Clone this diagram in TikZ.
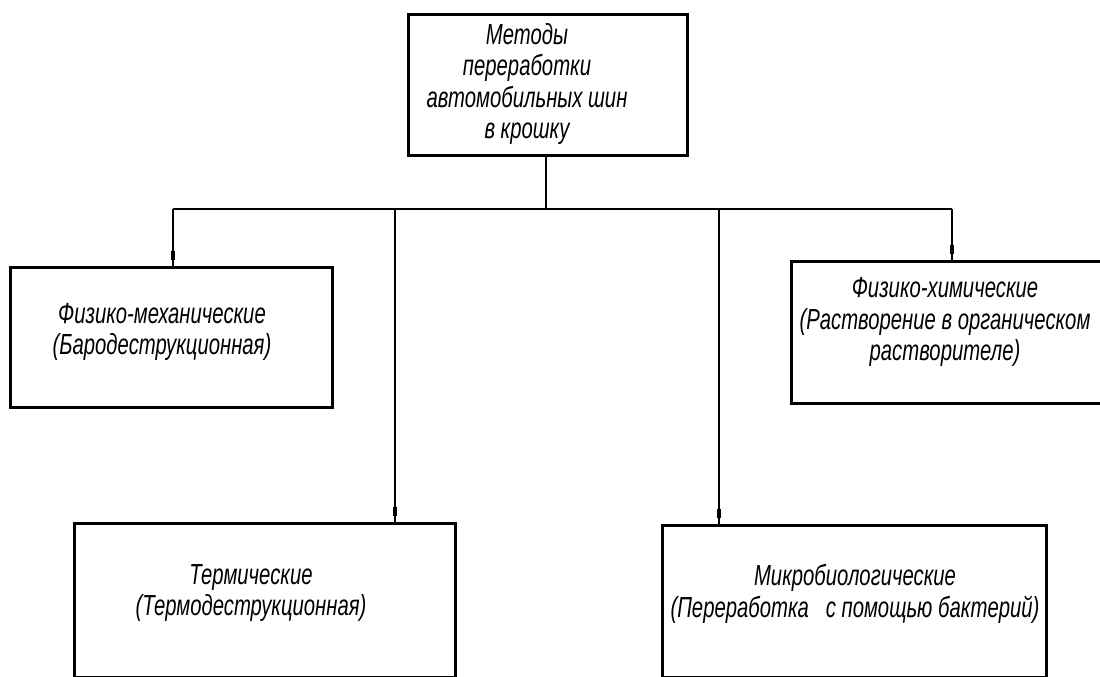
\documentclass[tikz,border=0pt]{standalone}
\usepackage{fontspec}
\newfontfamily\gostfont{Liberation Sans}[FakeStretch=0.7]
\begin{document}
\begin{tikzpicture}[x=1pt,y=-1pt,
  blockbox/.style={draw=black, line width=3pt, inner sep=0pt},
  blocktext/.style={align=center, inner sep=0pt,
    font=\gostfont\itshape\fontsize{29}{31.5}\selectfont},
  link/.style={draw=black, line width=1.5pt},
  endmark/.style={fill=black, inner sep=0pt, minimum width=4.5pt,
    minimum height=9pt, anchor=south, yshift=5pt}]
\useasboundingbox (0,0) rectangle (1100,677);
\clip (0,0) rectangle (1100,677);
\fill[white] (0,0) rectangle (1100,677);

% blocks
\node[blockbox, minimum width=279pt, minimum height=140pt] (top) at (547.5,85) {};
\node[blockbox, minimum width=322pt, minimum height=140pt] (mech) at (171,337) {};
\node[blockbox, minimum width=315pt, minimum height=142pt] (chem) at (948.5,332) {};
\node[blockbox, minimum width=381pt, minimum height=154pt] (therm) at (264.5,600) {};
\node[blockbox, minimum width=384pt, minimum height=152pt] (micro) at (854,601) {};

% captions
\node[blocktext] (topt) at (527,84) {Методы\\переработки\\автомобильных шин\\в крошку};
\node[blocktext] (mecht) at (162,332) {Физико-механические\\(Бародеструкционная)};
\node[blocktext] (chemt) at (945,322) {Физико-химические\\(Растворение в органическом\\растворителе)};
\node[blocktext] (thermt) at (251,593) {Термические\\(Термодеструкционная)};
\node[blocktext] (microt) at (855,594) {Микробиологические\\(Переработка \ \ с помощью бактерий)};

% distribution bus
\coordinate (busC) at (546,209);
\coordinate (busL) at (173,209);
\coordinate (busR) at (952,209);
\coordinate (busT) at (395,209);
\coordinate (busM) at (719,209);

\draw[link] (top.south -| busC) -- (busC);
\draw[link] (busL) -- (busR);
\draw[link] (busL) -- (busL |- mech.north) node[endmark, pos=1] {};
\draw[link] (busR) -- (busR |- chem.north) node[endmark, pos=1] {};
\draw[link] (busT) -- (busT |- therm.north) node[endmark, pos=1] {};
\draw[link] (busM) -- (busM |- micro.north) node[endmark, pos=1] {};
\end{tikzpicture}
\end{document}
